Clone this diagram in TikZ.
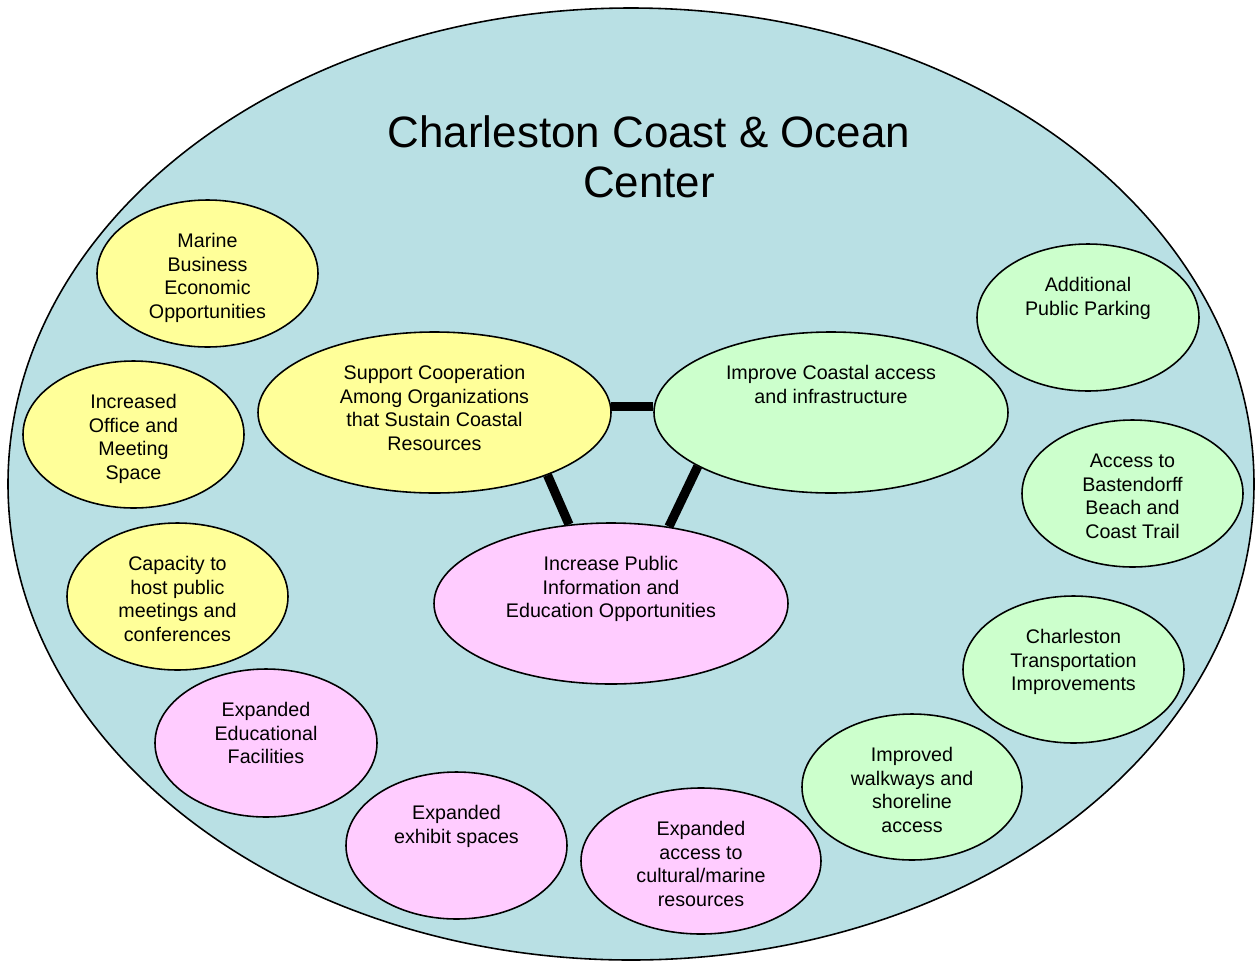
\documentclass[tikz,border=0pt]{standalone}
\usepackage{fontspec}
\setmainfont{Liberation Sans}
\usetikzlibrary{shapes.geometric}
\definecolor{ocean}{RGB}{185,224,228}
\definecolor{ideayellow}{RGB}{255,255,153}
\definecolor{ideapink}{RGB}{255,204,255}
\definecolor{ideagreen}{RGB}{204,255,204}
\tikzset{
	bubble/.style={draw, ellipse, inner sep=0pt, line width=0.9pt},
	bubbletext/.style={anchor=north, inner sep=0pt, align=center, font=\fontsize{11.2}{13.3}\selectfont},
	link/.style={line width=5.2pt}
}
\newcommand{\bubble}[7] % name, x, y, width, height (in px), colour, text
{
	% ellipse
	\node[bubble, fill=#6, minimum width=#4*0.02cm, minimum height=#5*0.02cm] (#1) at (#2,#3) {};
	% text, first line near the top
	\node[bubbletext] (#1-text) at ([yshift=-0.64cm]#1.north) {\strut #7};
}
\begin{document}
\begin{tikzpicture}[x=0.02cm, y=-0.02cm]
	% page: 1255px x 961px
	\useasboundingbox (0,0) rectangle (1255,961);
	\draw[line width=0.9pt, fill=ocean] (631,484) ellipse (623 and 476);
	\node[font=\fontsize{25}{28.5}\selectfont, align=center, inner sep=0pt] (title) at (649,157) {Charleston Coast \& Ocean\\Center};
	
	% yellow: cooperation
	\bubble{support}{434.5}{412.5}{353}{161}{ideayellow}{Support Cooperation\\Among Organizations\\that Sustain Coastal\\Resources}
	\bubble{marine}{207.5}{273.5}{221}{147}{ideayellow}{Marine\\Business\\Economic\\Opportunities}
	\bubble{office}{133.5}{434.5}{221}{147}{ideayellow}{Increased\\Office and\\Meeting\\Space}
	\bubble{capacity}{177.5}{596.5}{221}{147}{ideayellow}{Capacity to\\host public\\meetings and\\conferences}
	
	% pink: information and education
	\bubble{inform}{611}{603.5}{354}{161}{ideapink}{Increase Public\\Information and\\Education Opportunities}
	\bubble{edufac}{266}{743}{222}{148}{ideapink}{Expanded\\Educational\\Facilities}
	\bubble{exhibit}{456.5}{845.5}{221}{147}{ideapink}{Expanded\\exhibit spaces}
	\bubble{cultural}{701}{861}{240}{146}{ideapink}{Expanded\\access to\\cultural/marine\\resources}
	
	% green: access and infrastructure
	\bubble{coastal}{831}{412.5}{354}{161}{ideagreen}{Improve Coastal access\\and infrastructure}
	\bubble{parking}{1088}{317.5}{222}{147}{ideagreen}{Additional\\Public Parking}
	\bubble{beach}{1132.5}{493.5}{221}{147}{ideagreen}{Access to\\Bastendorff\\Beach and\\Coast Trail}
	\bubble{transport}{1073.5}{669.5}{221}{147}{ideagreen}{Charleston\\Transportation\\Improvements}
	\bubble{walkways}{912}{787}{220}{146}{ideagreen}{Improved\\walkways and\\shoreline\\access}
	
	% links between the three goals
	\draw[link] (support.2.5) -- (support.2.5 -| coastal.west);
	\draw[link] (support.-29.5) -- (inform.118.7);
	\draw[link] (coastal.-158.2) -- (inform.53.2);
\end{tikzpicture}
\end{document}
